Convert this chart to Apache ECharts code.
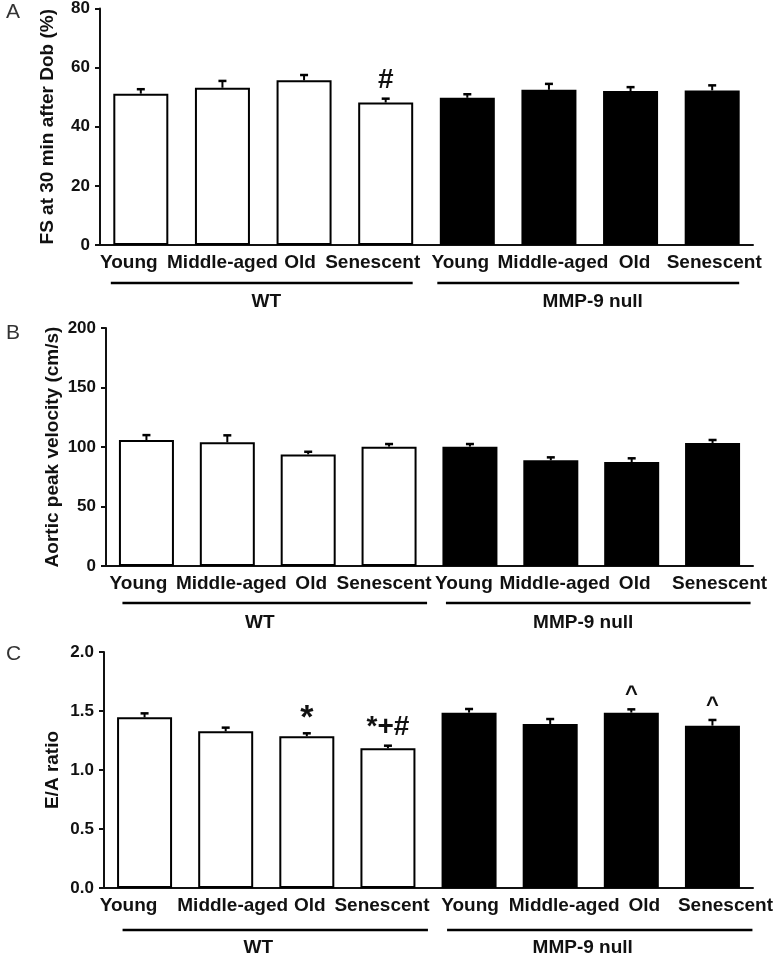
<!DOCTYPE html>
<html>
<head>
<meta charset="utf-8">
<script src="https://cdn.jsdelivr.net/npm/echarts@6/dist/echarts.min.js"></script>
<style>
html,body{margin:0;padding:0;background:#fff;}
#chart{width:774px;height:957px;}
</style>
</head>
<body>
<div id="chart"></div>
<script>
// ---- data ----
const categories = ['Young', 'Middle-aged', 'Old', 'Senescent', 'Young', 'Middle-aged', 'Old', 'Senescent'];
const groupNames = ['WT', 'MMP-9 null'];
const groupRanges = [[0, 3], [4, 7]];

const fsMean = [51.2, 53.2, 55.7, 48.2, 49.8, 52.5, 52.1, 52.3];
const fsErr  = [1.5, 2.3, 1.8, 1.3, 1.2, 2.0, 1.3, 1.7];
const fsAnnot = ['', '', '', '#', '', '', '', ''];

const velMean = [105.9, 103.9, 93.8, 100.3, 100.3, 88.8, 87.4, 103.4];
const velErr  = [4.1, 5.9, 2.2, 2.2, 2.2, 2.5, 3.1, 2.5];
const velAnnot = ['', '', '', '', '', '', '', ''];

const eaMean = [1.446, 1.328, 1.286, 1.184, 1.486, 1.39, 1.486, 1.376];
const eaErr  = [0.034, 0.031, 0.025, 0.022, 0.031, 0.042, 0.028, 0.048];
const eaAnnot = ['', '', '*', '*+#', '', '', '^', '^'];

const yTicksFS = [0, 20, 40, 60, 80];
const yTicksVel = [0, 50, 100, 150, 200];
const yTicksEA = [0, 0.5, 1.0, 1.5, 2.0];

// ---- layout / style ----
const FONT = '"Liberation Sans", Arial, Helvetica, sans-serif';
const INK = '#111';
const panels = [
  {letter: 'A', letterTop: -3, name: 'FS at 30 min after Dob (%)', mean: fsMean, err: fsErr, annot: fsAnnot, ticks: yTicksFS, digits: 0,
   grid: {left: 100, right: 21, top: 7, height: 238}, nameGap: 43, lineOff: [-30, 27], lineY: 38, labelY: 57, labelDX: 3,
   catShift: [-12, 0, -4, -13, -7, 4, 4, 2]},
  {letter: 'B', letterTop: 318, name: 'Aortic peak velocity (cm/s)', mean: velMean, err: velErr, annot: velAnnot, ticks: yTicksVel, digits: 0,
   grid: {left: 106, right: 21, top: 328, height: 238}, nameGap: 44, lineOff: [-24, 38], lineY: 37, labelY: 57, labelDX: -8,
   catShift: [-8, 4, 3, -5, -6, 4, 3, 7]},
  {letter: 'C', letterTop: 639, name: 'E/A ratio', mean: eaMean, err: eaErr, annot: eaAnnot, ticks: yTicksEA, digits: 1,
   grid: {left: 104, right: 21, top: 652, height: 236}, nameGap: 42, lineOff: [-22, 40], lineY: 42, labelY: 60, labelDX: -8,
   catShift: [-16, 7, 3, -6, 1, 14, 13, 13]}
];

const option = {
  animation: false,
  backgroundColor: '#fff',
  textStyle: {fontFamily: FONT},
  title: panels.map(p => ({
    text: p.letter, left: 1, top: p.letterTop,
    textStyle: {fontFamily: FONT, fontSize: 21, fontWeight: 'normal', color: '#333'}
  })),
  grid: panels.map(p => p.grid),
  xAxis: panels.map((p, i) => ({
    type: 'category', gridIndex: i, data: categories,
    axisLine: {lineStyle: {color: INK, width: 2}},
    axisTick: {show: false},
    axisLabel: {show: false}
  })),
  yAxis: panels.map((p, i) => ({
    type: 'value', gridIndex: i, min: p.ticks[0], max: p.ticks[p.ticks.length - 1],
    interval: p.ticks[1] - p.ticks[0],
    name: p.name, nameLocation: 'middle', nameGap: p.nameGap, nameMoveOverlap: false,
    nameTextStyle: {color: INK, fontSize: 19, fontWeight: 'bold', fontFamily: FONT},
    splitLine: {show: false},
    axisLine: {show: true, lineStyle: {color: INK, width: 2}},
    axisTick: {show: true, length: 5, lineStyle: {color: INK, width: 2}},
    axisLabel: {margin: 10, color: INK, fontSize: 17, fontWeight: 'bold', fontFamily: FONT,
      formatter: v => v.toFixed(p.digits)}
  })),
  series: []
};

panels.forEach((p, i) => {
  option.series.push({
    type: 'bar', xAxisIndex: i, yAxisIndex: i, barWidth: 55,
    data: p.mean.map((v, k) => ({
      value: v,
      itemStyle: {color: k < 4 ? '#fff' : '#000', borderColor: '#000', borderWidth: 2}
    }))
  });
  option.series.push({
    type: 'custom', xAxisIndex: i, yAxisIndex: i, clip: false, z: 5,
    data: p.mean.map((v, k) => [k, v, p.err[k]]),
    renderItem: (params, api) => {
      const k = params.dataIndex;
      const x = api.value(0), v = api.value(1), e = api.value(2);
      const a = p.annot[k];
      const p0 = api.coord([x, v]);
      const p1 = api.coord([x, v + e]);
      const pz = api.coord([x, p.ticks[0]]);
      const children = [
        {type: 'line', shape: {x1: p0[0], y1: p0[1], x2: p1[0], y2: p1[1]}, style: {stroke: '#000', lineWidth: 2}},
        {type: 'line', shape: {x1: p1[0] - 4, y1: p1[1], x2: p1[0] + 4, y2: p1[1]}, style: {stroke: '#000', lineWidth: 2.5}},
        {type: 'text', style: {text: categories[k], x: pz[0] + p.catShift[k], y: pz[1] + 8,
          textAlign: 'center', textVerticalAlign: 'top', font: 'bold 19px ' + FONT, fill: INK}}
      ];
      if (a) {
        const star = a === '*', caret = a === '^';
        children.push({type: 'text', style: {
          text: a, x: p1[0], y: p1[1] - (caret ? 3 : (star ? -2 : 4)),
          textAlign: 'center', textVerticalAlign: 'bottom',
          font: 'bold ' + (caret ? 22 : (star ? 34 : 28)) + 'px ' + FONT, fill: INK
        }});
      }
      return {type: 'group', children};
    }
  });
  option.series.push({
    type: 'custom', xAxisIndex: i, yAxisIndex: i, clip: false, z: 5,
    data: groupRanges.map((r, g) => [r[0], r[1], g]),
    renderItem: (params, api) => {
      const s = api.coord([api.value(0), p.ticks[0]]);
      const e = api.coord([api.value(1), p.ticks[0]]);
      const name = groupNames[api.value(2)];
      const x1 = s[0] + p.lineOff[0], x2 = e[0] + p.lineOff[1];
      return {type: 'group', children: [
        {type: 'line', shape: {x1: x1, y1: s[1] + p.lineY, x2: x2, y2: s[1] + p.lineY}, style: {stroke: '#000', lineWidth: 2.5}},
        {type: 'text', style: {text: name, x: (s[0] + e[0]) / 2 + p.labelDX, y: s[1] + p.labelY,
          textAlign: 'center', textVerticalAlign: 'middle', font: 'bold 19px ' + FONT, fill: INK}}
      ]};
    }
  });
});

const chart = echarts.init(document.getElementById('chart'), null, {renderer: 'canvas'});
chart.setOption(option);
</script>
</body>
</html>
